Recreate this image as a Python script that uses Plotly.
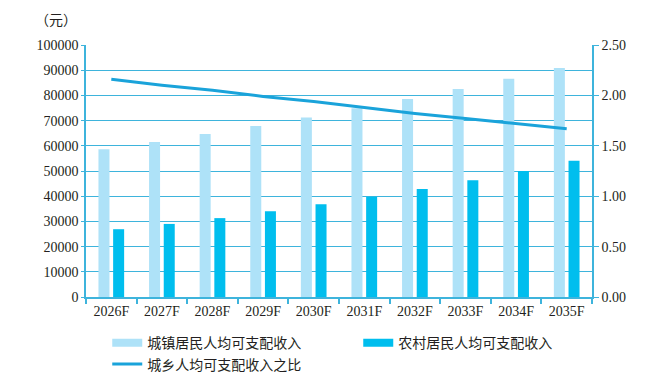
import plotly.graph_objects as go

years = ["2026F", "2027F", "2028F", "2029F", "2030F", "2031F", "2032F", "2033F", "2034F", "2035F"]
urban = [58600, 61500, 64700, 67900, 71200, 74900, 78600, 82500, 86600, 90900]
rural = [26900, 29000, 31300, 34000, 36800, 39800, 42900, 46300, 50000, 54100]
ratio = [2.16, 2.10, 2.05, 1.99, 1.94, 1.88, 1.82, 1.77, 1.72, 1.67]

name_u = "城镇居民人均可支配收入"
name_r = "农村居民人均可支配收入"
name_ratio = "城乡人均可支配收入之比"

c_u = "#AEE2F8"
c_r = "#00BEEE"
c_line = "#1AA3DA"
c_grid = "#3EB4DC"
serif = "Liberation Serif"
cjk = "Noto Sans CJK SC"
txt = "#231F20"

fig = go.Figure()
fig.add_trace(go.Bar(x=years, y=urban, name=name_u, marker=dict(color=c_u, line_width=0), showlegend=False))
fig.add_trace(go.Bar(x=years, y=rural, name=name_r, marker=dict(color=c_r, line_width=0), showlegend=False))
fig.add_trace(go.Scatter(x=years, y=ratio, yaxis="y2", mode="lines", name=name_ratio,
                         line=dict(color=c_line, width=3), showlegend=False))
# legend-only entries (wide swatches)
fig.add_trace(go.Scatter(x=[None], y=[None], mode="lines", name=name_u, line=dict(color=c_u, width=8)))
fig.add_trace(go.Scatter(x=[None], y=[None], mode="lines", name=name_r, line=dict(color=c_r, width=8)))
fig.add_trace(go.Scatter(x=[None], y=[None], mode="lines", name=name_ratio, line=dict(color=c_line, width=3)))

fig.update_layout(
    width=649, height=378,
    margin=dict(l=78, r=65, t=37, b=89, autoexpand=False),
    paper_bgcolor="white", plot_bgcolor="white",
    barmode="group", bargap=0.42, bargroupgap=0.25,
    font=dict(family=serif, size=14, color=txt),
    xaxis=dict(type="category", showgrid=False, showline=True, linecolor=c_grid, linewidth=1.5,
               ticks="outside", tickson="boundaries", ticklen=5, tickcolor=c_grid, tickwidth=1.5,
               tickfont=dict(family=serif, size=14, color=txt)),
    yaxis=dict(range=[0, 100000], dtick=10000, showgrid=True, gridcolor=c_grid, gridwidth=1.2,
               showline=True, linecolor=c_grid, linewidth=1.5, ticks="outside", ticklen=3,
               tickcolor=c_grid, tickformat="d", zeroline=False,
               tickfont=dict(family=serif, size=14, color=txt)),
    yaxis2=dict(range=[0, 2.5], dtick=0.5, overlaying="y", side="right", showgrid=False,
                showline=True, linecolor=c_grid, linewidth=1.5, ticks="outside", ticklen=5,
                tickcolor=c_grid, tickformat=".2f", zeroline=False,
                tickfont=dict(family=serif, size=14, color=txt)),
    legend=dict(orientation="h", x=0.042, xanchor="left", y=-0.12, yanchor="top",
                entrywidth=206, entrywidthmode="pixels", traceorder="normal",
                font=dict(family=cjk, size=14, color=txt), bgcolor="rgba(0,0,0,0)"),
    annotations=[dict(text="（元）", xref="paper", yref="paper", x=-0.06, y=1.0, yshift=26,
                      xanchor="center", yanchor="middle", showarrow=False,
                      font=dict(family=cjk, size=14, color=txt))],
)

fig.write_html("out.html")
